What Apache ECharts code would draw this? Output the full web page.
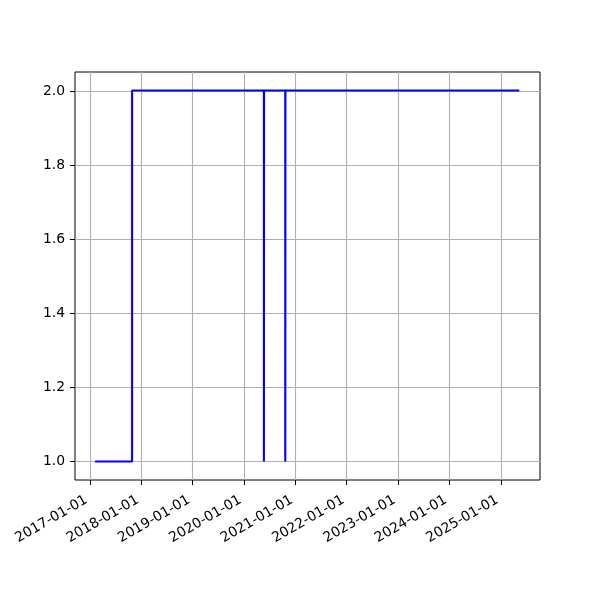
<!DOCTYPE html>
<html><head><meta charset="utf-8">
<script src="https://cdn.jsdelivr.net/npm/echarts@6/dist/echarts.min.js"></script>
<style>html,body{margin:0;padding:0;background:#fff}#c{width:600px;height:600px}</style>
</head><body><div id="c"></div>
<script>
const dates = ['2017-02-07','2017-10-28','2020-05-22','2020-05-23','2020-10-21','2020-10-22','2025-05-12'];
const values = [1, 2, 1, 2, 1, 2, 2];
const xTicks = ['2017-01-01','2018-01-01','2019-01-01','2020-01-01','2021-01-01','2022-01-01','2023-01-01','2024-01-01','2025-01-01'];
const yTicks = [1.0, 1.2, 1.4, 1.6, 1.8, 2.0];
const xMin = '2016-09-17', xMax = '2025-10-06';

const ts = s => new Date(s + 'T00:00:00Z').getTime();
const pad = n => String(n).padStart(2, '0');
const fmt = v => { const d = new Date(v); return d.getUTCFullYear() + '-' + pad(d.getUTCMonth() + 1) + '-' + pad(d.getUTCDate()); };
const font = 'DejaVu Sans';

const chart = echarts.init(document.getElementById('c'), null, {renderer: 'canvas'});
chart.setOption({
  animation: false,
  grid: [
    {left: 75, right: 60, top: 91, bottom: 139, show: false},
    {left: 75, right: 60, top: 72, bottom: 120, show: true, borderColor: '#000', borderWidth: 1, backgroundColor: 'transparent'}
  ],
  xAxis: [
    {gridIndex: 0, type: 'value', min: ts(xMin), max: ts(xMax), show: false},
    {gridIndex: 1, type: 'value', min: ts(xMin), max: ts(xMax),
     axisLine: {show: false},
     axisTick: {show: true, length: 5, lineStyle: {color: '#000', width: 1}, customValues: xTicks.map(ts)},
     axisLabel: {show: true, rotate: 30, margin: 17, padding: [0, 4, 0, 0], color: '#000', fontFamily: font, fontSize: 13.9,
                 customValues: xTicks.map(ts), formatter: v => fmt(v)},
     splitLine: {show: false}}
  ],
  yAxis: [
    {gridIndex: 0, type: 'value', min: yTicks[0], max: yTicks[yTicks.length - 1], interval: 0.2,
     axisLine: {show: false},
     axisTick: {show: true, length: 5, lineStyle: {color: '#000', width: 1}},
     axisLabel: {show: true, margin: 10, color: '#000', fontFamily: font, fontSize: 13.9, formatter: v => v.toFixed(1)},
     splitLine: {show: true, lineStyle: {color: '#b0b0b0', width: 1.1}}},
    {gridIndex: 1, type: 'value', min: 0.95, max: 2.05, show: false, splitLine: {show: false}}
  ],
  series: [
    {type: 'line', xAxisIndex: 1, yAxisIndex: 1, step: 'end', symbol: 'none',
     data: dates.map((d, i) => [ts(d), values[i]]),
     lineStyle: {color: '#0000ff', width: 2.1}, z: 5,
     markLine: {silent: true, symbol: 'none', label: {show: false}, z: 1,
       lineStyle: {color: '#b0b0b0', width: 1.1, type: 'solid'},
       data: xTicks.map(t => ({xAxis: ts(t)}))}}
  ]
});
</script></body></html>
